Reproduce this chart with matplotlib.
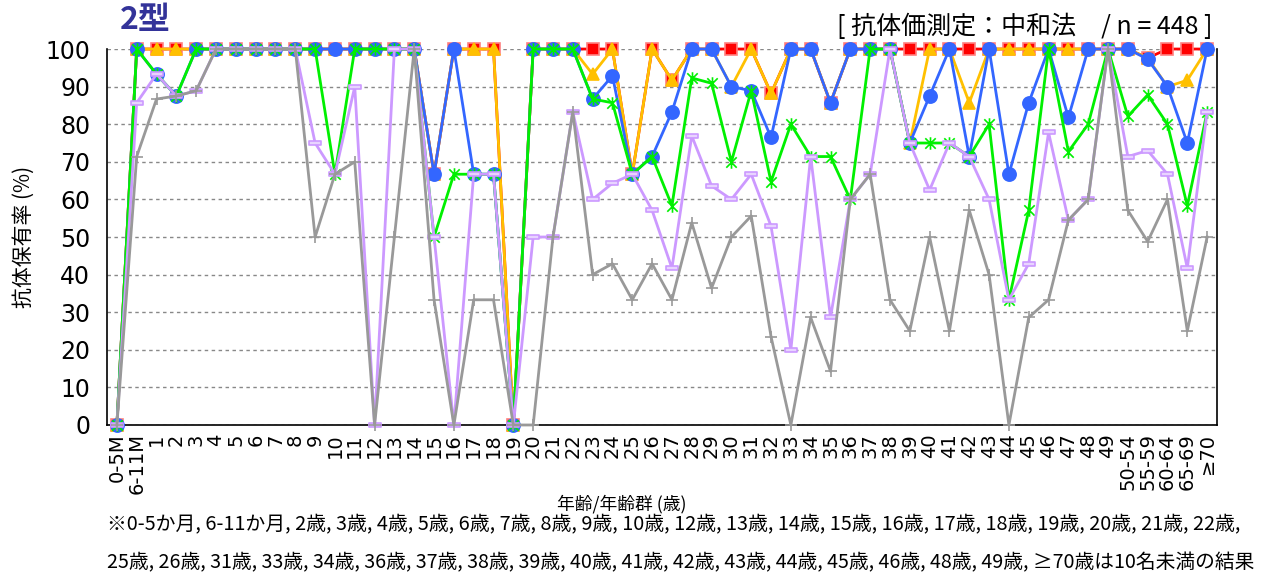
import matplotlib
matplotlib.use('Agg')
import matplotlib.pyplot as plt
from matplotlib.path import Path

plt.rcParams['font.family'] = ['Noto Sans CJK JP', 'DejaVu Sans']

# ── データ ───────────────────────────────────
age_labels = ['0-5M', '6-11M',
              '1', '2', '3', '4', '5', '6', '7', '8', '9', '10',
              '11', '12', '13', '14', '15', '16', '17', '18', '19', '20',
              '21', '22', '23', '24', '25', '26', '27', '28', '29', '30',
              '31', '32', '33', '34', '35', '36', '37', '38', '39', '40',
              '41', '42', '43', '44', '45', '46', '47', '48', '49',
              '50-54', '55-59', '60-64', '65-69', '≥70']

red = [0, 100, 100, 100, 100, 100, 100, 100, 100, 100, 100, 100, 100, 100, 100, 100,
       66.7, 100, 100, 100, 0, 100, 100, 100, 100, 100, 66.7, 100, 91.7, 100, 100, 100,
       100, 88.2, 100, 100, 85.7, 100, 100, 100, 100, 100, 100, 100, 100, 100, 100, 100,
       100, 100, 100, 100, 97.6, 100, 100, 100]
orange = [0, 100, 100, 100, 100, 100, 100, 100, 100, 100, 100, 100, 100, 100, 100, 100,
          66.7, 100, 100, 100, 0, 100, 100, 100, 93.3, 100, 66.7, 100, 91.7, 100, 100, 90,
          100, 88.2, 100, 100, 85.7, 100, 100, 100, 75, 100, 100, 85.7, 100, 100, 100, 100,
          100, 100, 100, 100, 97.6, 90, 91.7, 100]
blue = [0, 100, 93.3, 87.5, 100, 100, 100, 100, 100, 100, 100, 100, 100, 100, 100, 100,
        66.7, 100, 66.7, 66.7, 0, 100, 100, 100, 86.7, 92.9, 66.7, 71.4, 83.3, 100, 100, 90,
        88.9, 76.5, 100, 100, 85.7, 100, 100, 100, 75, 87.5, 100, 71.4, 100, 66.7, 85.7, 100,
        81.8, 100, 100, 100, 97.3, 90, 75, 100]
green = [0, 100, 93.3, 87.5, 100, 100, 100, 100, 100, 100, 100, 66.7, 100, 100, 100, 100,
         50, 66.7, 66.7, 66.7, 0, 100, 100, 100, 86.7, 85.7, 66.7, 71.4, 58.3, 92.3, 90.9, 70,
         88.9, 64.7, 80, 71.4, 71.4, 60, 100, 100, 75, 75, 75, 71.4, 80, 33.3, 57.1, 100,
         72.7, 80, 100, 82.1, 87.8, 80, 58.3, 83.3]
purple = [0, 85.7, 93.3, 87.5, 88.9, 100, 100, 100, 100, 100, 75, 66.7, 90, 0, 100, 100,
          50, 0, 66.7, 66.7, 0, 50, 50, 83.3, 60, 64.3, 66.7, 57.1, 41.7, 76.9, 63.6, 60,
          66.7, 52.9, 20, 71.4, 28.6, 60, 66.7, 100, 75, 62.5, 75, 71.4, 60, 33.3, 42.9, 77.8,
          54.5, 60, 100, 71.4, 73, 66.7, 41.7, 83.3]
gray = [0, 71.4, 86.7, 87.5, 88.9, 100, 100, 100, 100, 100, 50, 66.7, 70, 0, 50, 100,
        33.3, 0, 33.3, 33.3, 0, 0, 50, 83.3, 40, 42.9, 33.3, 42.9, 33.3, 53.8, 36.4, 50,
        55.6, 23.5, 0, 28.6, 14.3, 60, 66.7, 33.3, 25, 50, 25, 57.1, 40, 0, 28.6, 33.3,
        54.5, 60, 100, 57.1, 48.8, 60, 25, 50]

# ── マーカー ─────────────────────────────────
star = Path([(-1, -1), (1, 1), (-1, 1), (1, -1), (0, -1.2), (0, 1.2)],
            [Path.MOVETO, Path.LINETO, Path.MOVETO, Path.LINETO, Path.MOVETO, Path.LINETO])
dash = Path([(-1, -0.3), (1, -0.3), (1, 0.3), (-1, 0.3), (-1, -0.3)],
            [Path.MOVETO, Path.LINETO, Path.LINETO, Path.LINETO, Path.CLOSEPOLY])

series = [
    (red,    '#FF0000', 's',  8,   '#FF0000', '#FF8080'),
    (orange, '#FFC000', '^',  9,   '#FFC000', '#FFC000'),
    (blue,   '#3366FF', 'o',  9.5, '#3366FF', '#3366FF'),
    (green,  '#00F000', star, 9,   'none',    '#00F000'),
    (purple, '#CC99FF', dash, 9,   '#E8D4FF', '#CC99FF'),
    (gray,   '#999999', '+',  9,   'none',    '#999999'),
]

fig = plt.figure(figsize=(12.72, 5.74), dpi=100)
ax = fig.add_axes([0.0841, 0.2596, 0.8727, 0.655])

x = list(range(len(age_labels)))
for vals, col, mk, ms, fc, ec in series:
    ax.plot(x, vals, color=col, linewidth=2, marker=mk, markersize=ms,
            markerfacecolor=fc, markeredgecolor=ec, markeredgewidth=1.2,
            clip_on=False, zorder=3)

ax.set_xlim(-0.5, len(age_labels) - 0.5)
ax.set_ylim(0, 100)
ax.set_yticks(range(0, 101, 10))
ax.set_yticklabels([str(v) for v in range(0, 101, 10)], fontsize=17, family='DejaVu Sans')
ax.set_xticks(x)
ax.set_xticklabels(age_labels, rotation=90, fontsize=14, family='DejaVu Sans')
ax.tick_params(axis='both', length=0, pad=6)
ax.tick_params(axis='y', pad=12)

ax.grid(axis='y', color='#888888', linestyle=(0, (2.5, 2.5)), linewidth=1)
ax.set_axisbelow(True)
ax.spines['top'].set_visible(False)
for sp in ['left', 'right', 'bottom']:
    ax.spines[sp].set_color('black')
    ax.spines[sp].set_linewidth(1.2)

ax.set_ylabel('抗体保有率 (%)', fontsize=15, labelpad=8)

fig.text(0.0943, 0.966, '2型', fontsize=23, fontweight='bold', color='#333399',
         ha='left', va='center')
fig.text(0.953, 0.953, '[ 抗体価測定：中和法　/ n = 448 ]', fontsize=18,
         ha='right', va='center')
fig.text(0.489, 0.122, '年齢/年齢群 (歳)', fontsize=12.8, ha='center', va='center')
fig.text(0.0843, 0.086,
         '※0-5か月, 6-11か月, 2歳, 3歳, 4歳, 5歳, 6歳, 7歳, 8歳, 9歳, 10歳, 12歳, 13歳, 14歳, '
         '15歳, 16歳, 17歳, 18歳, 19歳, 20歳, 21歳, 22歳,', fontsize=14.3, ha='left', va='center')
fig.text(0.0843, 0.020,
         '25歳, 26歳, 31歳, 33歳, 34歳, 36歳, 37歳, 38歳, 39歳, 40歳, 41歳, 42歳, 43歳, 44歳, '
         '45歳, 46歳, 48歳, 49歳, ≥70歳は10名未満の結果', fontsize=14.2, ha='left', va='center')

plt.savefig('out.png', dpi=100)
